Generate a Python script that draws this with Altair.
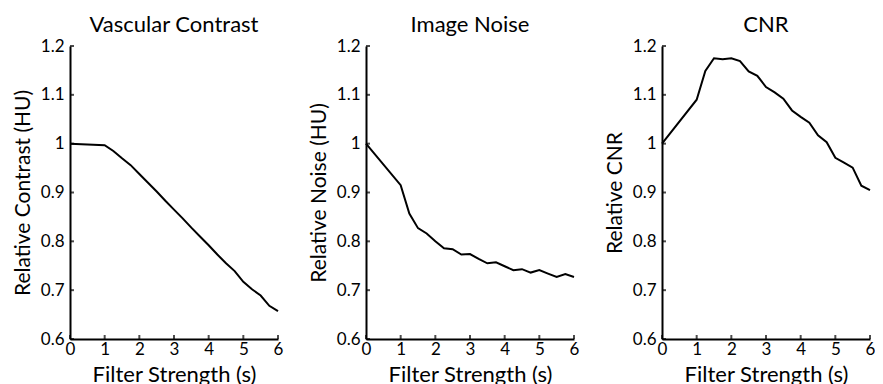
import altair as alt
import pandas as pd

# ---- data ----
x_vals = [0, 1, 1.25, 1.5, 1.75, 2, 2.25, 2.5, 2.75, 3, 3.25, 3.5, 3.75,
          4, 4.25, 4.5, 4.75, 5, 5.25, 5.5, 5.75, 6]
contrast = [1.000, 0.997, 0.985, 0.970, 0.956, 0.938, 0.920, 0.902, 0.883,
            0.865, 0.847, 0.828, 0.810, 0.792, 0.773, 0.755, 0.739, 0.717,
            0.702, 0.689, 0.668, 0.657]
noise = [1.000, 0.915, 0.857, 0.827, 0.816, 0.800, 0.786, 0.784, 0.773,
         0.774, 0.764, 0.755, 0.757, 0.749, 0.741, 0.743, 0.736, 0.741,
         0.734, 0.727, 0.733, 0.727]
cnr = [1.000, 1.090, 1.149, 1.175, 1.173, 1.175, 1.169, 1.148, 1.139,
       1.116, 1.105, 1.092, 1.068, 1.055, 1.043, 1.017, 1.003, 0.971,
       0.961, 0.951, 0.914, 0.905]

titles = ["Vascular Contrast", "Image Noise", "CNR"]
y_titles = ["Relative Contrast (HU)", "Relative Noise (HU)", "Relative CNR"]
x_title = "Filter Strength (s)"
x_ticks = [0, 1, 2, 3, 4, 5, 6]
y_ticks = [0.6, 0.7, 0.8, 0.9, 1.0, 1.1, 1.2]

FONT = "Lato"
W, H = 208, 293

xscale = alt.Scale(domain=[0, 6], nice=False, zero=False)
yscale = alt.Scale(domain=[0.6, 1.2], nice=False, zero=False)

common = dict(grid=False, ticks=False, tickSize=0, domainColor="black",
              domainWidth=2, labelFont=FONT, labelFontSize=17,
              labelColor="black", labelOverlap=False, labelFlush=False,
              titleFont=FONT, titleFontWeight="normal", titleColor="black")
x_axis = alt.Axis(values=x_ticks, title=x_title, format="d",
                  titleFontSize=22, titlePadding=7, labelPadding=2, **common)


def panel(values, title, ytitle):
    y_axis = alt.Axis(values=y_ticks, title=ytitle, format="~g",
                      titleFontSize=21, titlePadding=7, labelPadding=6,
                      **common)
    df = pd.DataFrame({"x": x_vals, "y": values})
    line = alt.Chart(df).mark_line(color="black", strokeWidth=2).encode(
        x=alt.X("x:Q", scale=xscale, axis=x_axis),
        y=alt.Y("y:Q", scale=yscale, axis=y_axis),
    )
    ydf = pd.DataFrame({"t": y_ticks})
    yt = alt.Chart(ydf).mark_tick(orient="horizontal", color="black",
                                  size=4, thickness=2, xOffset=2).encode(
        x=alt.datum(0, scale=xscale, axis=x_axis),
        y=alt.Y("t:Q", scale=yscale, axis=y_axis))
    xdf = pd.DataFrame({"t": x_ticks})
    xt = alt.Chart(xdf).mark_tick(orient="vertical", color="black",
                                  size=4, thickness=2, yOffset=-2).encode(
        x=alt.X("t:Q", scale=xscale, axis=x_axis),
        y=alt.datum(0.6, scale=yscale, axis=y_axis))
    return alt.layer(line, yt, xt).properties(
        width=W, height=H,
        title=alt.Title(title, font=FONT, fontSize=22, fontWeight="normal",
                        color="black", offset=0))


chart = alt.hconcat(
    panel(contrast, titles[0], y_titles[0]),
    panel(noise, titles[1], y_titles[1]),
    panel(cnr, titles[2], y_titles[2]),
    spacing=25,
).properties(padding={"left": 4, "top": 6, "right": 0, "bottom": 0}
).configure(background="white"
).configure_view(stroke=None
).configure_axis(**common)

chart.save("out.html", embed_options={"renderer": "svg", "actions": False})
